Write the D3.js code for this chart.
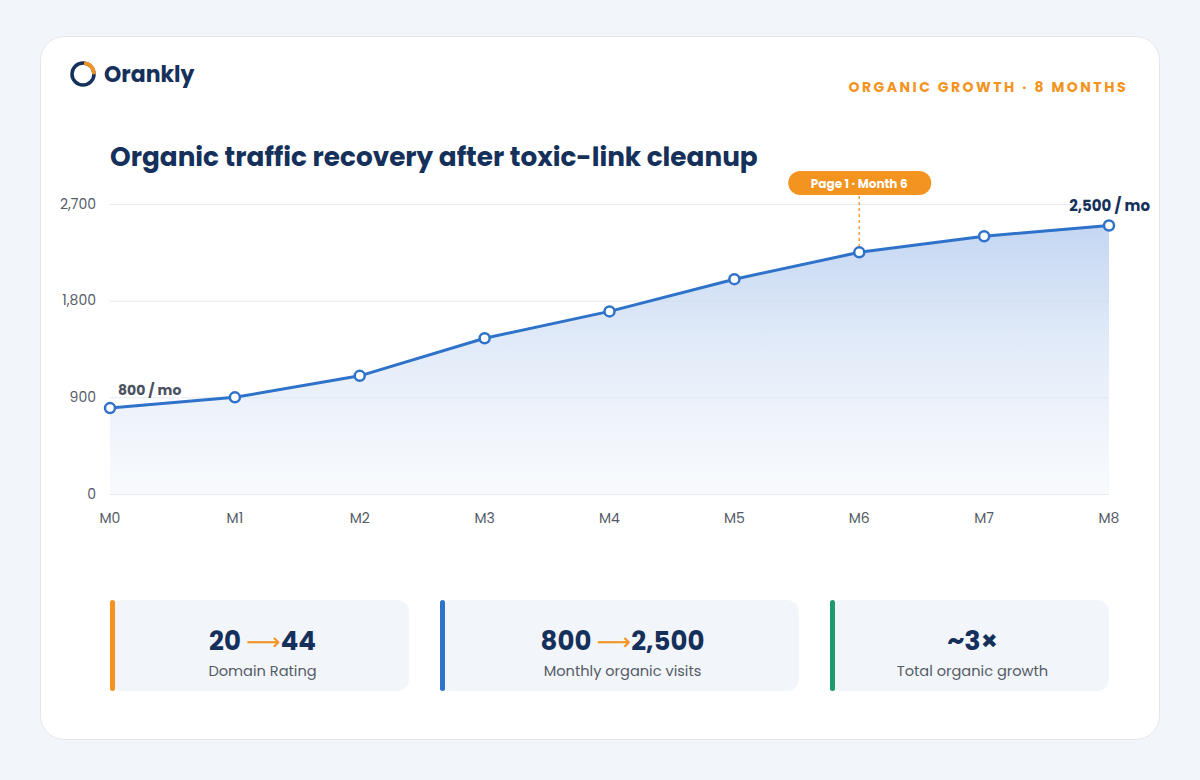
<html>
<head>
<script src="https://d3js.org/d3.v7.min.js"></script>
<style>
  body { margin: 0; background: #f2f5fa; }
  text { font-family: "Poppins", "Open Sans", "DejaVu Sans", sans-serif; }
</style>
</head>
<body>
<script>
  var months = ["M0", "M1", "M2", "M3", "M4", "M5", "M6", "M7", "M8"];
  var visits = [800, 900, 1100, 1450, 1700, 2000, 2250, 2400, 2500];
  var yTicks = [0, 900, 1800, 2700];
  var statValues = [["20", "44"], ["800", "2,500"], ["~3×", null]];
  var statLabels = ["Domain Rating", "Monthly organic visits", "Total organic growth"];
  var statColors = ["#f39320", "#2f72c9", "#1f9a6b"];

  var navy = "#15305a", blue = "#2f72c9", orange = "#f39320";
  var W = 1200, H = 780;

  var svg = d3.select("body").append("svg").attr("width", W).attr("height", H);
  svg.append("rect").attr("width", W).attr("height", H).attr("fill", "#f2f5fa");
  svg.append("rect").attr("x", 40.5).attr("y", 36.5).attr("width", 1119).attr("height", 703)
     .attr("rx", 24).attr("fill", "#fff").attr("stroke", "#e3e8ef");

  // logo
  var logo = svg.append("g").attr("transform", "translate(83,74)");
  logo.append("circle").attr("r", 11).attr("fill", "none").attr("stroke", navy).attr("stroke-width", 3.5);
  logo.append("path").attr("d", d3.arc().innerRadius(9.25).outerRadius(12.75).startAngle(0.1).endAngle(1.6)())
      .attr("fill", orange);
  svg.append("text").attr("x", 104).attr("y", 82).text("Orankly")
     .attr("font-size", 22).attr("font-weight", 700).attr("fill", navy);

  svg.append("text").attr("x", 1128).attr("y", 92).attr("text-anchor", "end")
     .text("ORGANIC GROWTH · 8 MONTHS").attr("font-size", 14).attr("font-weight", 700)
     .attr("letter-spacing", 2.5).attr("fill", orange);

  svg.append("text").attr("x", 110).attr("y", 166).text("Organic traffic recovery after toxic-link cleanup")
     .attr("font-size", 26.3).attr("font-weight", 700).attr("fill", navy);

  // chart
  var x = d3.scalePoint().domain(months).range([110, 1109]);
  var y = d3.scaleLinear().domain([0, 2700]).range([494, 204]);

  var grid = svg.append("g");
  grid.selectAll("line").data(yTicks).enter().append("line")
      .attr("x1", 110).attr("x2", 1109)
      .attr("y1", function(d) { return y(d) + 0.5; }).attr("y2", function(d) { return y(d) + 0.5; })
      .attr("stroke", "#e6eaf0");
  grid.selectAll("text").data(yTicks).enter().append("text")
      .attr("x", 96).attr("y", function(d) { return y(d) + 4.5; }).attr("text-anchor", "end")
      .text(d3.format(",")).attr("font-size", 14).attr("fill", "#555b66");

  svg.append("g").selectAll("text").data(months).enter().append("text")
     .attr("x", function(d) { return x(d); }).attr("y", 523).attr("text-anchor", "middle")
     .text(function(d) { return d; }).attr("font-size", 14).attr("fill", "#555b66");

  var defs = svg.append("defs");
  var grad = defs.append("linearGradient").attr("id", "fillGrad")
     .attr("x1", 0).attr("y1", 0).attr("x2", 0).attr("y2", 1);
  grad.append("stop").attr("offset", "0%").attr("stop-color", "#b9cff0").attr("stop-opacity", 0.85);
  grad.append("stop").attr("offset", "100%").attr("stop-color", "#e8eff9").attr("stop-opacity", 0.3);

  var pts = months.map(function(m, i) { return [m, visits[i]]; });
  var area = d3.area().x(function(d) { return x(d[0]); }).y0(y(0)).y1(function(d) { return y(d[1]); });
  var line = d3.line().x(function(d) { return x(d[0]); }).y(function(d) { return y(d[1]); });

  svg.append("path").datum(pts).attr("d", area).attr("fill", "url(#fillGrad)");

  // annotation
  var ax = x("M6");
  svg.append("line").attr("x1", ax).attr("x2", ax).attr("y1", 196).attr("y2", y(2250) - 6)
     .attr("stroke", orange).attr("stroke-width", 1.3).attr("stroke-dasharray", "3,3");
  svg.append("rect").attr("x", ax - 71).attr("y", 171).attr("width", 143).attr("height", 24)
     .attr("rx", 12).attr("fill", orange);
  svg.append("text").attr("x", ax).attr("y", 187.5).attr("text-anchor", "middle")
     .text("Page 1 · Month 6").attr("font-size", 12).attr("font-weight", 700).attr("fill", "#fff");

  svg.append("path").datum(pts).attr("d", line).attr("fill", "none")
     .attr("stroke", blue).attr("stroke-width", 3).attr("stroke-linejoin", "round");
  svg.append("g").selectAll("circle").data(pts).enter().append("circle")
     .attr("cx", function(d) { return x(d[0]); }).attr("cy", function(d) { return y(d[1]); })
     .attr("r", 5).attr("fill", "#fff").attr("stroke", blue).attr("stroke-width", 2.5);

  svg.append("text").attr("x", 118).attr("y", 395).text("800 / mo")
     .attr("font-size", 14).attr("font-weight", 700).attr("fill", "#4a5260");
  svg.append("text").attr("x", 1150).attr("y", 211).attr("text-anchor", "end").text("2,500 / mo")
     .attr("font-size", 15).attr("font-weight", 700).attr("fill", navy);

  // stat cards
  var cards = [[110, 299], [440, 359], [830, 279]];
  cards.forEach(function(c, i) {
    var g = svg.append("g").attr("transform", "translate(" + c[0] + ",600)");
    g.append("rect").attr("width", c[1]).attr("height", 91).attr("rx", 12).attr("fill", "#f2f5fa");
    g.append("rect").attr("width", 5).attr("height", 91).attr("rx", 2.5).attr("fill", statColors[i]);
    var t = g.append("text").attr("x", c[1] / 2 + 3).attr("y", 50).attr("text-anchor", "middle")
       .attr("font-size", 26).attr("font-weight", 700).attr("fill", navy);
    var v = statValues[i];
    if (v[1]) {
      t.append("tspan").text(v[0] + " ");
      t.append("tspan").text("⟶").attr("fill", orange).attr("font-weight", 400)
       .style("font-family", "'DejaVu Sans'").attr("font-size", 24);
      t.append("tspan").text(v[1]);
    } else {
      t.text(v[0]).attr("font-size", 27);
    }
    g.append("text").attr("x", c[1] / 2 + 3).attr("y", 76).attr("text-anchor", "middle")
       .text(statLabels[i]).attr("font-size", 14.6).attr("fill", "#555b66");
  });
</script>
</body>
</html>
